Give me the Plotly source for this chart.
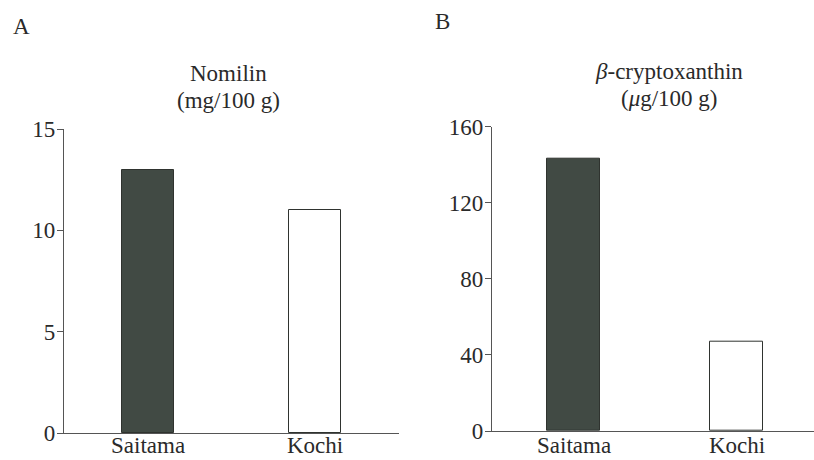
import plotly.graph_objects as go

# Data
regions = ["Saitama", "Kochi"]
nomilin = [13, 11]            # mg/100 g
cryptoxanthin = [143, 47]     # µg/100 g
nomilin_ticks = [0, 5, 10, 15]
crypto_ticks = [0, 40, 80, 120, 160]

FONT = "'Liberation Serif', 'Times New Roman', Times, serif"
INK = "#2a2a2a"
bar_fill = ["#414a44", "#ffffff"]
bar_line = "#2f332f"
SIZE = 23

fig = go.Figure()

fig.add_trace(go.Bar(
    x=regions, y=nomilin, xaxis="x", yaxis="y", width=0.31,
    marker=dict(color=bar_fill, line=dict(color=bar_line, width=1)),
    showlegend=False, hoverinfo="x+y",
))
fig.add_trace(go.Bar(
    x=regions, y=cryptoxanthin, xaxis="x2", yaxis="y2", width=0.32,
    marker=dict(color=bar_fill, line=dict(color=bar_line, width=1)),
    showlegend=False, hoverinfo="x+y",
))

W, H = 814, 460

def xd(a, b):
    return [a / W, min(b / W, 1.0)]

def yd(bottom, top):
    return [(H - bottom) / H, (H - top) / H]

axis_common = dict(
    showline=True, linecolor="#555555", linewidth=1.2,
    showgrid=False, zeroline=False, automargin=False,
    tickfont=dict(family=FONT, size=SIZE, color=INK),
)

fig.update_layout(
    width=W, height=H,
    margin=dict(l=0, r=0, t=0, b=0, autoexpand=False),
    paper_bgcolor="white", plot_bgcolor="white",
    bargap=0,
    font=dict(family=FONT, color=INK),
    xaxis=dict(domain=xd(64, 399), anchor="y", type="category",
               range=[-0.5, 1.5], ticks="", showticklabels=False,
               **axis_common),
    yaxis=dict(domain=yd(433, 129), anchor="x", range=[0, 15],
               tickvals=nomilin_ticks, ticks="outside", ticklen=6,
               ticklabelstandoff=-3, tickcolor="#555555", **axis_common),
    xaxis2=dict(domain=xd(492, 814), anchor="y2", type="category",
                range=[-0.5, 1.475], ticks="", showticklabels=False,
                **axis_common),
    yaxis2=dict(domain=yd(431, 126.7), anchor="x2", range=[0, 160],
                tickvals=crypto_ticks, ticks="outside", ticklen=6,
                ticklabelstandoff=-3, tickcolor="#555555", **axis_common),
)

# category labels under each bar, placed on the category axes
for xref in ("x", "x2"):
    for name in regions:
        fig.add_annotation(
            text=name, x=name, y=0, xref=xref, yref="paper",
            showarrow=False, xanchor="center", yanchor="bottom",
            font=dict(family=FONT, size=SIZE, color=INK),
        )

def label(text, x, y, size=SIZE, xanchor="center"):
    fig.add_annotation(
        text=text, x=x / W, y=(H - y) / H, xref="paper", yref="paper",
        showarrow=False, xanchor=xanchor, yanchor="middle",
        font=dict(family=FONT, size=size, color=INK),
    )

label("A", 11, 27, xanchor="left")
label("B", 433, 22, xanchor="left")
label("Nomilin", 228, 74)
label("(mg/100 g)", 228, 101)
label("<i>β</i>-cryptoxanthin", 669, 71)
label("(<i>μ</i>g/100 g)", 669, 98)

fig.write_html("out.html")
